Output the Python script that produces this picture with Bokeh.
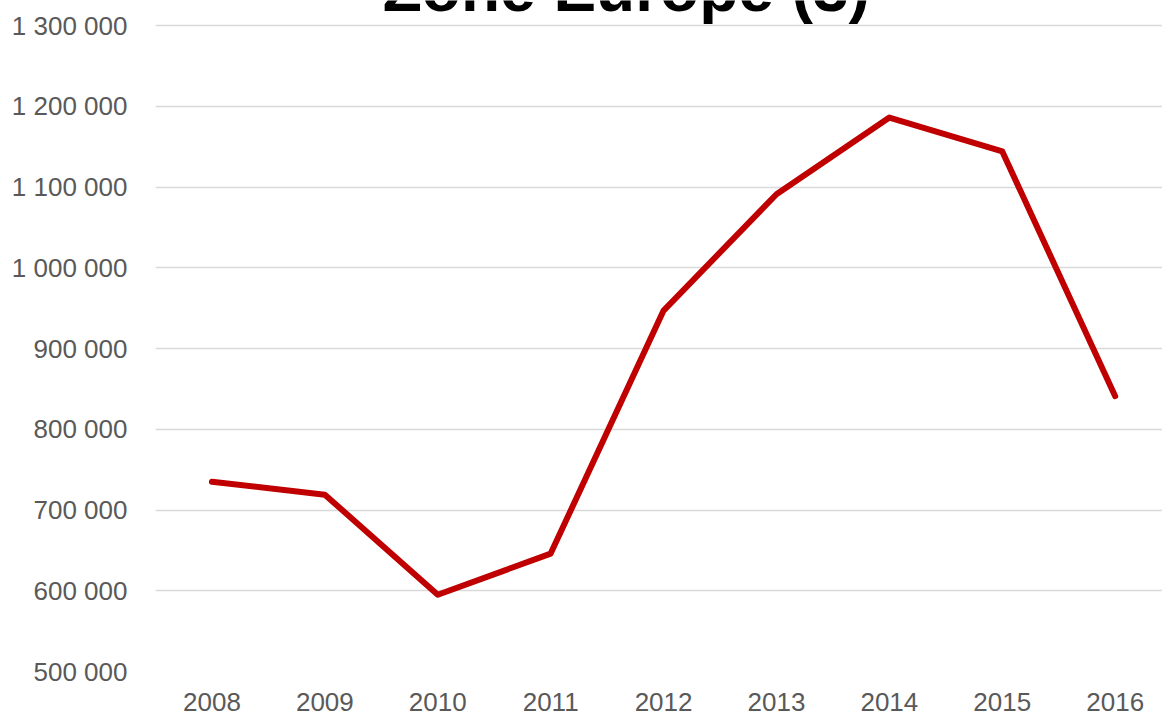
from bokeh.plotting import figure
from bokeh.models import Range1d, FixedTicker, Label
from bokeh.embed import file_html
from bokeh.resources import INLINE

title_text = "Zone Europe (3)"
years = [2008, 2009, 2010, 2011, 2012, 2013, 2014, 2015, 2016]
values = [735000, 719000, 595000, 646000, 947000, 1091000, 1186000, 1144000, 841000]
y_ticks = [500000, 600000, 700000, 800000, 900000, 1000000, 1100000, 1200000, 1300000]
y_tick_labels = ["500 000", "600 000", "700 000", "800 000", "900 000",
                 "1 000 000", "1 100 000", "1 200 000", "1 300 000"]

p = figure(width=1162, height=716, output_backend="svg", toolbar_location=None,
           x_range=Range1d(2007.5, 2016.419), y_range=Range1d(500000, 1330960))
p.min_border_left = 155
p.min_border_right = 0
p.min_border_top = 0
p.min_border_bottom = 45
p.outline_line_color = None
p.background_fill_color = "white"
p.border_fill_color = "white"

p.line(years, values, line_color="#C00000", line_width=6, line_cap="round", line_join="round")

p.xaxis.ticker = FixedTicker(ticks=years)
p.xaxis.major_label_overrides = {y: str(y) for y in years}
p.yaxis.ticker = FixedTicker(ticks=y_ticks)
p.yaxis.major_label_overrides = dict(zip(y_ticks, y_tick_labels))

for ax in (p.xaxis, p.yaxis):
    ax.axis_line_color = None
    ax.major_tick_line_color = None
    ax.minor_tick_line_color = None
    ax.major_label_text_font = "Liberation Sans"
    ax.major_label_text_font_size = "26px"
    ax.major_label_text_color = "#595959"
p.yaxis.major_label_standoff = 22
p.xaxis.major_label_standoff = 15

p.xgrid.grid_line_color = None
p.ygrid.grid_line_color = "#d9d9d9"
p.ygrid.grid_line_width = 1.5

title = Label(x=2011.67, y=1344600, text=title_text, text_align="center",
              text_baseline="alphabetic", text_font="Liberation Sans",
              text_font_size="64px", text_font_style="bold", text_color="black")
p.add_layout(title)

open("out.html", "w").write(file_html(p, INLINE))
